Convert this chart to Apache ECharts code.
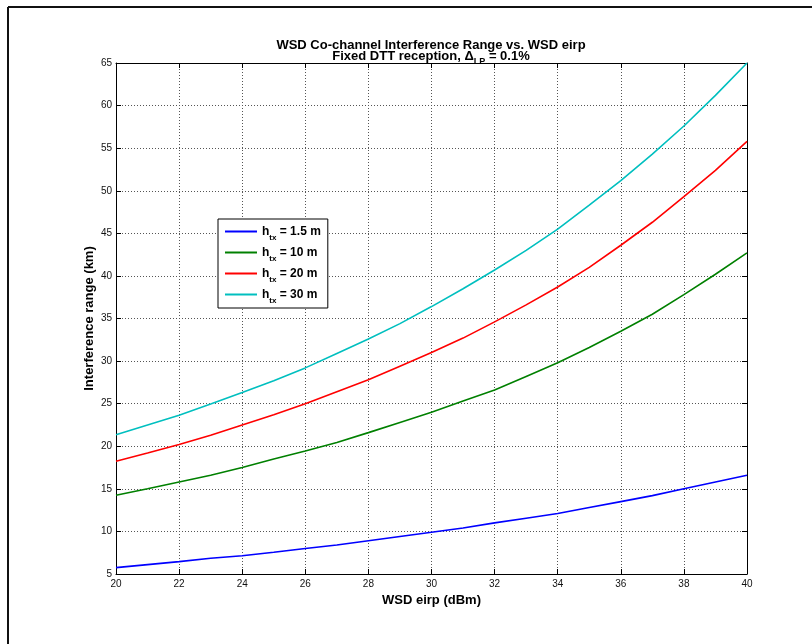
<!DOCTYPE html>
<html>
<head>
<meta charset="utf-8">
<script src="https://cdn.jsdelivr.net/npm/echarts@6/dist/echarts.min.js"></script>
<style>html,body{margin:0;padding:0;background:#fff;}#c{width:812px;height:644px;}</style>
</head>
<body>
<div id="c"></div>
<script>
var eirp = [20,21,22,23,24,25,26,27,28,29,30,31,32,33,34,35,36,37,38,39,40];
var h1_5 = [5.75,6.1,6.45,6.85,7.15,7.55,8.0,8.4,8.9,9.4,9.9,10.4,11.0,11.55,12.1,12.8,13.5,14.2,15.0,15.8,16.6];
var h10  = [14.25,15.0,15.8,16.6,17.5,18.5,19.45,20.45,21.6,22.8,24.0,25.3,26.6,28.2,29.8,31.6,33.5,35.5,37.8,40.2,42.7];
var h20  = [18.25,19.2,20.2,21.3,22.5,23.7,25.0,26.4,27.8,29.4,31.0,32.7,34.6,36.6,38.7,41.0,43.6,46.3,49.3,52.4,55.8];
var h30  = [21.35,22.5,23.65,24.95,26.3,27.7,29.2,30.9,32.6,34.4,36.4,38.5,40.7,43.0,45.5,48.3,51.2,54.3,57.6,61.2,65.0];
var seriesNames = ['1.5 m','10 m','20 m','30 m'];
var seriesColors = ['#0000ff','#008000','#ff0000','#00bfbf'];
var xTicks = {min:20, max:40, interval:2};
var yTicks = {min:5, max:65, interval:5};

function pairs(ys){ return eirp.map(function(x,i){ return [x, ys[i]]; }); }
var allData = [h1_5, h10, h20, h30];
var FONT = '"Liberation Sans", Arial, sans-serif';

var chart = echarts.init(document.getElementById('c'), null, {renderer:'canvas'});
var axisCommonX = {type:'value', min:xTicks.min, max:xTicks.max, interval:xTicks.interval};
var axisCommonY = {type:'value', min:yTicks.min, max:yTicks.max, interval:yTicks.interval};
var option = {
  backgroundColor:'#fff',
  animation:false,
  textStyle:{fontFamily:FONT},
  grid:{left:116, right:65, top:63, bottom:70, containLabel:false},
  graphic:[
    {type:'line', shape:{x1:8,y1:7,x2:8,y2:644}, style:{stroke:'#111', lineWidth:2}},
    {type:'line', shape:{x1:8,y1:7,x2:812,y2:7}, style:{stroke:'#111', lineWidth:2}},
    {type:'text', style:{
      x:431, y:45, align:'center', verticalAlign:'middle',
      text:'WSD Co-channel Interference Range vs. WSD eirp',
      fontSize:13, fontWeight:'bold', fontFamily:FONT, fill:'#000'
    }},
    {type:'text', style:{
      x:431, y:56, align:'center', verticalAlign:'middle',
      text:'{b|Fixed DTT reception, Δ}{s|LP}{b| = 0.1%}',
      rich:{
        b:{fontSize:13, fontWeight:'bold', fontFamily:FONT, fill:'#000', lineHeight:16},
        s:{fontSize:9, fontWeight:'bold', fontFamily:FONT, fill:'#000', lineHeight:4, padding:[12,0,0,0]}
      }
    }}
  ],
  legend:{
    orient:'vertical', left:218, top:219,
    data:seriesNames,
    icon:'rect',
    backgroundColor:'#fff', borderColor:'#000', borderWidth:1,
    padding:[2,7,3,7], itemGap:0, itemWidth:32, itemHeight:2,
    formatter:function(n){ return '{a|h}{s|tx}{a| = ' + n + '}'; },
    textStyle:{
      fontFamily:FONT, color:'#000',
      rich:{
        a:{fontSize:12, fontWeight:'bold', fontFamily:FONT, color:'#000', lineHeight:17},
        s:{fontSize:8, fontWeight:'bold', fontFamily:FONT, color:'#000', lineHeight:4, padding:[13,0,0,0]}
      }
    }
  },
  xAxis:[
    Object.assign({}, axisCommonX, {
      position:'bottom',
      name:'WSD eirp (dBm)', nameLocation:'middle', nameGap:20, nameMoveOverlap:false,
      nameTextStyle:{fontSize:13, fontWeight:'bold', color:'#000', fontFamily:FONT},
      axisLine:{show:true, onZero:false, lineStyle:{color:'#000', width:1}},
      axisTick:{show:true, inside:true, length:5, lineStyle:{color:'#000'}},
      axisLabel:{show:true, fontSize:10, color:'#111', margin:5, fontFamily:FONT},
      splitLine:{show:true, lineStyle:{color:'#555', type:[1,2], width:1}}
    }),
    Object.assign({}, axisCommonX, {
      position:'top',
      axisLine:{show:true, onZero:false, lineStyle:{color:'#000', width:1}},
      axisTick:{show:true, inside:true, length:5, lineStyle:{color:'#000'}},
      axisLabel:{show:false}, splitLine:{show:false}
    })
  ],
  yAxis:[
    Object.assign({}, axisCommonY, {
      position:'left',
      name:'Interference range (km)', nameLocation:'middle', nameGap:20, nameRotate:90, nameMoveOverlap:false,
      nameTextStyle:{fontSize:13, fontWeight:'bold', color:'#000', fontFamily:FONT},
      axisLine:{show:true, onZero:false, lineStyle:{color:'#000', width:1}},
      axisTick:{show:true, inside:true, length:5, lineStyle:{color:'#000'}},
      axisLabel:{show:true, fontSize:10, color:'#111', margin:4, fontFamily:FONT},
      splitLine:{show:true, lineStyle:{color:'#555', type:[1,2], width:1}}
    }),
    Object.assign({}, axisCommonY, {
      position:'right',
      axisLine:{show:true, onZero:false, lineStyle:{color:'#000', width:1}},
      axisTick:{show:true, inside:true, length:5, lineStyle:{color:'#000'}},
      axisLabel:{show:false}, splitLine:{show:false}
    })
  ],
  series: seriesNames.map(function(n,i){
    return {
      name:n, type:'line', xAxisIndex:0, yAxisIndex:0,
      data:pairs(allData[i]), symbol:'none', smooth:false,
      lineStyle:{color:seriesColors[i], width:1.6},
      itemStyle:{color:seriesColors[i]}
    };
  })
};
chart.setOption(option);
</script>
</body>
</html>
